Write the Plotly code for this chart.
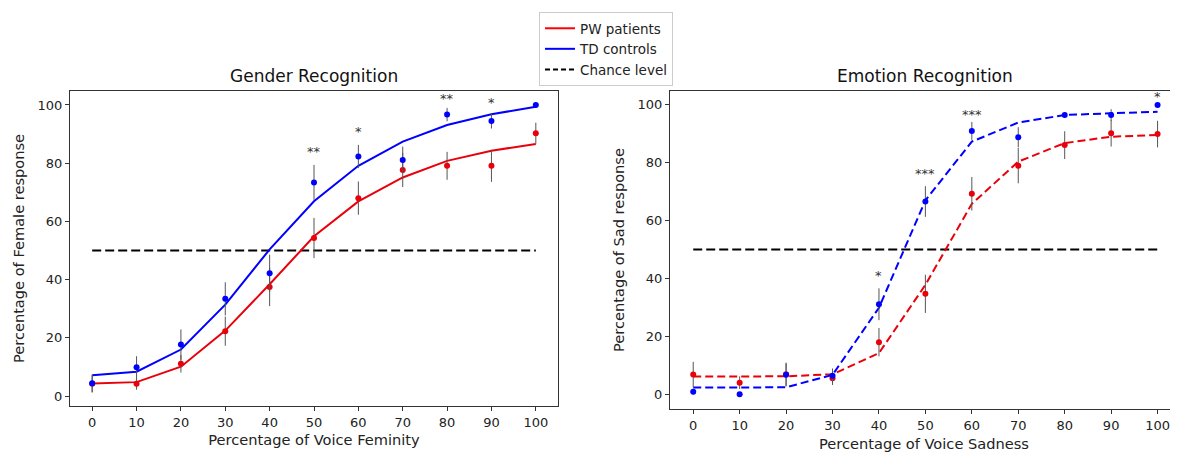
import plotly.graph_objects as go

# Stimulus levels (% morph)
levels = [0, 10, 20, 30, 40, 50, 60, 70, 80, 90, 100]

# Gender recognition - observed means, SEM and fitted curves
gender_pw = [4.2, 4.2, 11.1, 22.3, 37.5, 54.3, 68.0, 77.7, 79.1, 79.1, 90.3]
gender_pw_err = [3.0, 2.0, 3.0, 5.0, 6.6, 6.9, 5.7, 5.9, 4.8, 5.5, 3.6]
gender_td = [4.4, 9.9, 17.7, 33.4, 42.2, 73.4, 82.3, 81.1, 96.7, 94.5, 100.0]
gender_td_err = [3.0, 3.8, 5.2, 5.7, 6.4, 6.0, 4.0, 4.6, 2.3, 2.6, 0.0]
gender_pw_fit = [4.3, 4.8, 10.1, 22.5, 38.4, 54.9, 66.9, 75.1, 80.8, 84.3, 86.6]
gender_td_fit = [7.2, 8.4, 16.0, 31.4, 50.4, 66.9, 79.1, 87.4, 93.1, 96.8, 99.4]

# Emotion recognition - observed means, SEM and fitted curves
emotion_pw = [6.8, 4.0, 6.9, 5.5, 18.0, 34.7, 69.3, 79.0, 86.1, 90.2, 89.9]
emotion_pw_err = [4.4, 2.2, 4.0, 2.3, 4.9, 6.6, 5.8, 6.1, 4.8, 4.6, 4.6]
emotion_td = [0.9, 0.0, 6.7, 6.4, 31.1, 66.6, 91.0, 88.8, 96.5, 96.5, 100.0]
emotion_td_err = [1.0, 0.0, 4.0, 2.5, 5.5, 5.3, 3.1, 3.5, 1.0, 2.0, 0.0]
emotion_pw_fit = [6.1, 6.1, 6.2, 6.9, 14.2, 37.8, 65.8, 80.4, 86.8, 89.0, 89.6]
emotion_td_fit = [2.3, 2.3, 2.4, 6.7, 29.9, 67.0, 87.3, 93.9, 96.5, 97.1, 97.6]

chance = [0, 100]
chance_level = [50, 50]

# significance markers (x, y, label)
gender_stars = [(50, 84.0, "**"), (60, 90.8, "*"), (80, 102.3, "**"), (90, 100.8, "*")]
emotion_stars = [(40, 41.2, "*"), (50, 76.4, "***"), (60, 96.8, "***"), (100, 102.9, "*")]

RED = "#e8000b"
BLUE = "#0000ff"
ERR = "#555555"
FONT = "DejaVu Sans"

# the page body adds an 8px margin, so the figure is a bit smaller than the window
W, H = 1170, 444
OFF = 8


def px(x):
    return (x - OFF) / W


def py(y):
    return 1 - (y - OFF) / H


fig = go.Figure()


def add_panel(xa, ya, pw, pw_err, td, td_err, pw_fit, td_fit, dash):
    fig.add_trace(go.Scatter(x=chance, y=chance_level, mode="lines", xaxis=xa, yaxis=ya,
                             line=dict(color="black", width=2, dash="9px,4px"), showlegend=False))
    fig.add_trace(go.Scatter(x=levels, y=pw_fit, mode="lines", xaxis=xa, yaxis=ya,
                             line=dict(color=RED, width=2, dash=dash), showlegend=False))
    fig.add_trace(go.Scatter(x=levels, y=td_fit, mode="lines", xaxis=xa, yaxis=ya,
                             line=dict(color=BLUE, width=2, dash=dash), showlegend=False))
    fig.add_trace(go.Scatter(x=levels, y=pw, mode="markers", xaxis=xa, yaxis=ya,
                             marker=dict(color=RED, size=6),
                             error_y=dict(type="data", array=pw_err, color=ERR, thickness=1, width=0),
                             showlegend=False))
    fig.add_trace(go.Scatter(x=levels, y=td, mode="markers", xaxis=xa, yaxis=ya,
                             marker=dict(color=BLUE, size=6),
                             error_y=dict(type="data", array=td_err, color=ERR, thickness=1, width=0),
                             showlegend=False))


add_panel("x", "y", gender_pw, gender_pw_err, gender_td, gender_td_err,
          gender_pw_fit, gender_td_fit, "solid")
add_panel("x2", "y2", emotion_pw, emotion_pw_err, emotion_td, emotion_td_err,
          emotion_pw_fit, emotion_td_fit, "8px,4px")

# legend-only handles
fig.add_trace(go.Scatter(x=[None], y=[None], mode="lines", name="PW patients",
                         line=dict(color="#ff0000", width=2)))
fig.add_trace(go.Scatter(x=[None], y=[None], mode="lines", name="TD controls",
                         line=dict(color=BLUE, width=2)))
fig.add_trace(go.Scatter(x=[None], y=[None], mode="lines", name="Chance level",
                         line=dict(color="black", width=2, dash="5px,3px")))

annotations = []
for xr, yr, stars in [("x", "y", gender_stars), ("x2", "y2", emotion_stars)]:
    for sx, sy, label in stars:
        annotations.append(dict(x=sx, y=sy, xref=xr, yref=yr, text=label, showarrow=False,
                                font=dict(family=FONT, size=13, color="#333333"),
                                xanchor="center", yanchor="middle"))

annotations.append(dict(x=px(314), y=py(76), xref="paper", yref="paper", text="Gender Recognition",
                        showarrow=False, xanchor="center", yanchor="middle",
                        font=dict(family=FONT, size=17, color="#111111")))
annotations.append(dict(x=px(925), y=py(76), xref="paper", yref="paper", text="Emotion Recognition",
                        showarrow=False, xanchor="center", yanchor="middle",
                        font=dict(family=FONT, size=17, color="#111111")))

axis_common = dict(showgrid=False, zeroline=False, showline=True, linecolor="#333333", linewidth=1,
                   ticks="outside", ticklen=4, tickcolor="#333333", automargin=False,
                   tickfont=dict(family=FONT, size=13, color="#222222"),
                   title_font=dict(family=FONT, size=14.6, color="#222222"))

fig.update_layout(
    width=W, height=H,
    margin=dict(l=0, r=0, t=0, b=0),
    plot_bgcolor="white", paper_bgcolor="white",
    showlegend=True,
    legend=dict(x=px(539), y=py(12), xanchor="left", yanchor="top", itemwidth=30,
                bordercolor="#cccccc", borderwidth=1, bgcolor="white",
                font=dict(family=FONT, size=13.5, color="#222222"), tracegroupgap=0),
    xaxis=dict(domain=[px(70), px(558)], range=[-5, 105], tickvals=levels, mirror=True,
               anchor="y", title=dict(text="Percentage of Voice Feminity", standoff=6), **axis_common),
    yaxis=dict(domain=[py(406), py(91)], range=[-3.4, 104.8], tickvals=[0, 20, 40, 60, 80, 100],
               mirror=True, anchor="x", title=dict(text="Percentage of Female response", standoff=9),
               **axis_common),
    xaxis2=dict(domain=[px(670), 1.0], range=[-5, 104.4], tickvals=levels, mirror=True,
                anchor="y2", title=dict(text="Percentage of Voice Sadness", standoff=8), **axis_common),
    yaxis2=dict(domain=[py(409), py(91)], range=[-5.1, 104.8], tickvals=[0, 20, 40, 60, 80, 100],
                anchor="x2", title=dict(text="Percentage of Sad response", standoff=9), **axis_common),
    annotations=annotations,
)

fig.write_html("out.html")
